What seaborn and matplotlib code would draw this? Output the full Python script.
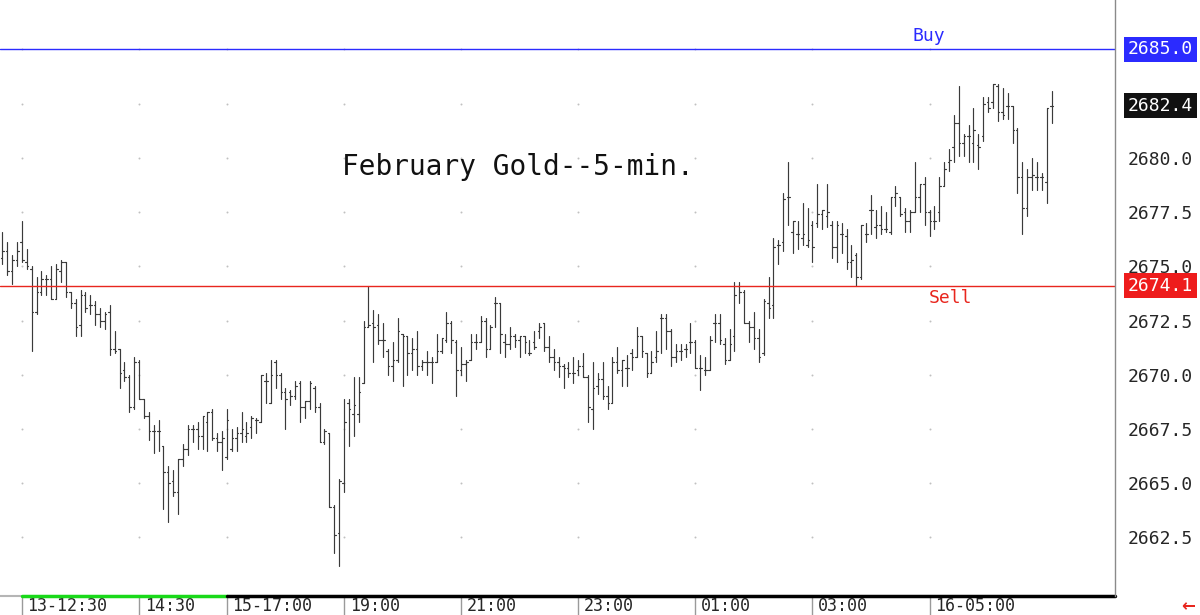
import matplotlib
matplotlib.use("Agg")
import matplotlib.pyplot as plt
import matplotlib.transforms as mtransforms
import pandas as pd
import seaborn as sns

# === Data: February Gold 5-min bars ===
highs = [2676.6, 2676.1, 2675.5, 2676.1, 2677.1, 2675.8, 2675.0, 2674.5, 2674.8, 2674.6,
         2675.0, 2675.1, 2675.3, 2675.2, 2673.8, 2673.5, 2673.9, 2673.8, 2673.7, 2673.4,
         2673.1, 2672.9, 2673.2, 2672.0, 2671.2, 2670.6, 2670.0, 2670.8, 2670.7, 2668.9,
         2668.3, 2667.7, 2667.9, 2666.7, 2665.8, 2665.6, 2666.1, 2666.8, 2667.7, 2667.7,
         2667.8, 2668.1, 2668.3, 2668.4, 2667.3, 2667.4, 2668.4, 2667.5, 2667.6, 2668.3,
         2667.8, 2668.1, 2668.0, 2670.0, 2670.1, 2670.7, 2670.7, 2670.1, 2669.4, 2669.3,
         2669.7, 2669.7, 2668.8, 2669.7, 2669.5, 2668.7, 2667.5, 2667.3, 2664.0, 2665.2,
         2668.9, 2668.9, 2669.9, 2669.9, 2672.5, 2674.1, 2673.0, 2672.8, 2672.4, 2671.2,
         2671.5, 2672.6, 2671.9, 2671.8, 2671.7, 2672.0, 2670.7, 2671.1, 2670.8, 2671.9,
         2671.7, 2672.9, 2672.5, 2671.6, 2671.3, 2670.7, 2671.9, 2671.9, 2672.7, 2672.6,
         2672.3, 2673.6, 2673.3, 2671.9, 2672.2, 2671.9, 2671.8, 2671.8, 2671.6, 2672.0,
         2672.4, 2672.4, 2671.8, 2671.2, 2670.8, 2670.5, 2670.6, 2670.8, 2670.7, 2671.0,
         2670.0, 2670.6, 2670.1, 2670.6, 2669.5, 2670.8, 2671.3, 2670.7, 2670.9, 2671.2,
         2672.2, 2671.8, 2671.0, 2671.1, 2672.0, 2672.8, 2672.8, 2672.1, 2671.4, 2671.4,
         2671.4, 2672.4, 2671.6, 2670.9, 2670.8, 2671.8, 2672.8, 2672.8, 2671.7, 2672.1,
         2674.3, 2674.3, 2673.9, 2672.5, 2672.9, 2672.1, 2673.5, 2674.5, 2676.3, 2676.2,
         2678.4, 2679.8, 2677.1, 2677.1, 2677.9, 2677.7, 2677.1, 2678.8, 2677.6, 2678.8,
         2677.1, 2677.1, 2677.0, 2676.7, 2676.0, 2675.6, 2676.9, 2677.0, 2678.3, 2677.6,
         2677.8, 2677.5, 2678.2, 2678.7, 2678.2, 2677.7, 2677.6, 2679.8, 2678.8, 2679.1,
         2677.6, 2677.8, 2679.1, 2679.8, 2680.4, 2682.0, 2683.3, 2681.1, 2681.5, 2682.3,
         2681.1, 2682.8, 2682.8, 2683.4, 2683.4, 2683.2, 2683.0, 2682.4, 2681.4, 2679.8,
         2679.5, 2680.0, 2679.8, 2679.3, 2682.3, 2683.1]
lows = [2675.1, 2674.6, 2674.2, 2675.0, 2675.2, 2674.9, 2671.1, 2672.8, 2673.7, 2673.7,
        2673.5, 2673.5, 2674.3, 2673.6, 2673.1, 2671.8, 2671.8, 2672.9, 2672.8, 2672.3,
        2672.2, 2672.1, 2670.9, 2671.0, 2669.4, 2669.7, 2668.3, 2668.4, 2668.9, 2668.0,
        2667.0, 2666.4, 2666.5, 2663.8, 2663.2, 2664.4, 2663.6, 2665.8, 2666.3, 2666.9,
        2666.6, 2666.6, 2666.5, 2667.0, 2666.5, 2665.6, 2666.1, 2666.5, 2666.5, 2666.9,
        2666.9, 2667.1, 2667.3, 2667.8, 2668.7, 2668.7, 2669.4, 2668.9, 2667.5, 2668.6,
        2668.9, 2667.8, 2668.0, 2668.4, 2668.3, 2666.9, 2666.8, 2663.9, 2661.8, 2661.2,
        2664.6, 2666.7, 2667.2, 2667.8, 2669.6, 2672.2, 2670.6, 2671.4, 2670.8, 2670.0,
        2669.7, 2670.6, 2669.5, 2670.0, 2670.2, 2670.0, 2670.2, 2670.0, 2669.6, 2670.6,
        2671.0, 2671.5, 2671.0, 2669.0, 2670.0, 2669.7, 2670.7, 2671.2, 2671.5, 2670.8,
        2671.2, 2672.2, 2671.0, 2670.8, 2671.2, 2671.3, 2670.8, 2671.0, 2670.9, 2671.2,
        2671.7, 2671.1, 2670.6, 2670.2, 2669.9, 2669.4, 2669.9, 2669.6, 2670.0, 2669.9,
        2667.8, 2667.5, 2669.1, 2668.9, 2668.4, 2668.7, 2670.1, 2669.5, 2669.5, 2670.2,
        2670.8, 2670.8, 2669.9, 2670.1, 2670.6, 2671.0, 2671.2, 2670.4, 2670.6, 2670.7,
        2670.8, 2671.0, 2670.3, 2669.3, 2670.0, 2670.2, 2671.5, 2671.4, 2670.5, 2670.7,
        2671.1, 2673.3, 2672.4, 2671.5, 2671.2, 2670.6, 2670.9, 2672.6, 2672.6, 2675.1,
        2675.7, 2676.9, 2675.6, 2675.8, 2676.0, 2675.9, 2675.2, 2676.8, 2676.7, 2676.8,
        2675.4, 2675.2, 2675.6, 2674.9, 2674.5, 2674.1, 2674.4, 2676.1, 2676.5, 2676.3,
        2676.5, 2676.6, 2676.5, 2677.8, 2677.3, 2676.6, 2676.6, 2677.5, 2677.5, 2676.9,
        2676.4, 2676.7, 2677.1, 2678.7, 2679.4, 2679.8, 2680.1, 2680.1, 2679.8, 2679.8,
        2679.5, 2680.8, 2682.1, 2682.3, 2681.7, 2681.8, 2681.8, 2680.7, 2678.4, 2676.5,
        2677.3, 2678.5, 2678.5, 2678.5, 2677.9, 2681.6]
opens = [2675.4, 2675.7, 2674.8, 2675.3, 2676.1, 2675.2, 2674.9, 2672.9, 2673.8, 2674.4,
         2674.4, 2673.5, 2674.8, 2675.2, 2673.8, 2673.3, 2672.3, 2673.7, 2673.2, 2673.2,
         2672.8, 2672.5, 2672.9, 2671.2, 2671.2, 2670.2, 2669.9, 2668.5, 2670.6, 2668.9,
         2668.1, 2667.4, 2667.4, 2666.7, 2665.5, 2665.1, 2664.6, 2666.1, 2666.6, 2667.5,
         2667.5, 2667.2, 2667.8, 2668.3, 2667.1, 2666.9, 2666.2, 2666.6, 2667.1, 2667.3,
         2667.2, 2667.6, 2667.9, 2667.8, 2669.7, 2668.7, 2670.6, 2670.0, 2669.2, 2669.2,
         2669.0, 2669.6, 2668.5, 2668.8, 2669.4, 2668.5, 2666.9, 2667.3, 2663.9, 2662.7,
         2665.0, 2668.7, 2668.2, 2668.2, 2669.6, 2672.2, 2672.4, 2672.3, 2671.6, 2671.1,
         2670.4, 2670.7, 2671.9, 2671.8, 2671.0, 2671.2, 2670.4, 2670.6, 2670.6, 2670.6,
         2671.1, 2671.6, 2672.4, 2671.5, 2670.2, 2670.5, 2670.7, 2671.5, 2671.5, 2672.5,
         2671.2, 2673.3, 2673.3, 2671.5, 2671.4, 2671.8, 2671.6, 2671.8, 2671.0, 2671.5,
         2672.0, 2672.4, 2671.3, 2670.8, 2670.6, 2670.4, 2670.3, 2670.1, 2670.2, 2670.4,
         2669.9, 2668.4, 2669.5, 2669.8, 2669.0, 2668.7, 2670.6, 2670.2, 2670.3, 2671.0,
         2670.8, 2671.8, 2671.0, 2670.1, 2670.8, 2672.6, 2672.6, 2672.0, 2670.8, 2671.1,
         2671.2, 2671.5, 2671.5, 2670.3, 2670.2, 2670.2, 2672.4, 2672.4, 2671.4, 2670.7,
         2671.8, 2674.1, 2673.8, 2672.4, 2672.2, 2671.7, 2671.0, 2673.3, 2673.2, 2676.0,
         2676.1, 2678.2, 2676.6, 2676.5, 2676.3, 2676.0, 2676.9, 2677.0, 2677.4, 2677.3,
         2676.9, 2675.9, 2676.5, 2676.4, 2675.2, 2675.5, 2674.5, 2676.5, 2677.6, 2676.8,
         2676.9, 2676.7, 2676.6, 2678.2, 2678.2, 2677.5, 2677.1, 2677.5, 2678.2, 2678.8,
         2677.5, 2677.1, 2677.5, 2678.7, 2679.8, 2680.5, 2681.6, 2680.7, 2681.0, 2680.7,
         2680.6, 2681.0, 2682.6, 2682.6, 2683.3, 2682.1, 2682.4, 2682.4, 2681.3, 2679.1,
         2677.7, 2679.1, 2679.1, 2679.1, 2678.9, 2682.4]
closes = [2675.7, 2674.8, 2675.3, 2675.7, 2675.3, 2675.0, 2672.9, 2673.8, 2674.4, 2674.4,
          2673.5, 2674.9, 2675.2, 2673.8, 2673.3, 2672.2, 2673.7, 2673.1, 2673.2, 2672.8,
          2672.5, 2672.8, 2671.2, 2671.1, 2670.1, 2669.9, 2668.5, 2670.6, 2668.9, 2668.1,
          2667.4, 2667.4, 2667.4, 2665.5, 2665.0, 2664.6, 2666.1, 2666.6, 2667.5, 2667.5,
          2667.2, 2668.1, 2668.3, 2667.1, 2666.9, 2667.1, 2667.9, 2667.1, 2667.3, 2667.5,
          2667.3, 2668.0, 2667.9, 2670.0, 2669.7, 2670.0, 2670.0, 2669.2, 2668.9, 2669.0,
          2669.5, 2668.5, 2668.8, 2669.6, 2668.5, 2666.9, 2667.4, 2663.9, 2662.6, 2665.1,
          2667.8, 2668.4, 2668.6, 2669.2, 2672.2, 2672.3, 2672.2, 2671.6, 2671.6, 2670.4,
          2670.7, 2672.0, 2671.8, 2671.0, 2671.2, 2670.4, 2670.6, 2670.6, 2670.6, 2671.1,
          2671.7, 2672.4, 2671.6, 2670.2, 2670.5, 2670.6, 2671.5, 2671.5, 2672.5, 2671.2,
          2672.2, 2673.3, 2671.9, 2671.4, 2671.8, 2671.6, 2671.8, 2671.5, 2671.0, 2671.3,
          2672.2, 2671.3, 2670.8, 2670.6, 2670.4, 2670.3, 2670.1, 2670.1, 2670.4, 2669.9,
          2668.5, 2669.4, 2669.8, 2669.0, 2668.7, 2670.6, 2670.2, 2670.7, 2670.3, 2670.8,
          2671.8, 2671.1, 2670.1, 2670.6, 2671.1, 2672.6, 2672.0, 2670.8, 2671.1, 2671.1,
          2671.2, 2671.5, 2670.3, 2670.3, 2670.2, 2671.6, 2672.4, 2671.6, 2670.7, 2671.4,
          2673.7, 2673.8, 2672.4, 2672.2, 2671.7, 2670.8, 2673.4, 2673.1, 2675.9, 2676.0,
          2678.1, 2678.2, 2677.1, 2676.5, 2676.5, 2676.2, 2675.9, 2677.4, 2677.6, 2677.5,
          2675.9, 2676.9, 2676.5, 2675.2, 2675.3, 2674.5, 2676.9, 2676.5, 2677.6, 2676.9,
          2676.7, 2676.7, 2678.2, 2678.4, 2677.4, 2677.1, 2677.5, 2678.2, 2678.8, 2677.5,
          2677.1, 2677.1, 2678.7, 2679.5, 2679.9, 2681.6, 2680.7, 2681.0, 2681.0, 2681.3,
          2680.5, 2682.5, 2682.3, 2683.4, 2682.1, 2682.0, 2682.4, 2681.3, 2679.1, 2677.7,
          2679.1, 2679.2, 2679.1, 2679.1, 2682.3, 2682.4]

time_ticks = [4, 28, 46, 70, 94, 118, 142, 166, 190]
time_labels = ["13-12:30", "14:30", "15-17:00", "19:00", "21:00",
               "23:00", "01:00", "03:00", "16-05:00"]
price_ticks = [2662.5, 2665.0, 2667.5, 2670.0, 2672.5, 2675.0, 2677.5, 2680.0]

buy_level = 2685.0
sell_level = 2674.1
last_price = closes[-1]

# === Build long-form segments for OHLC bars ===
tick_w = 0.32
rows = []
for i, (h, l, o, c) in enumerate(zip(highs, lows, opens, closes)):
    rows += [(f"r{i}", i, l), (f"r{i}", i, h)]
    rows += [(f"o{i}", i - tick_w, o), (f"o{i}", i, o)]
    rows += [(f"c{i}", i, c), (f"c{i}", i + tick_w, c)]
bars = pd.DataFrame(rows, columns=["seg", "x", "price"])

grid = pd.DataFrame([(x, y) for x in time_ticks for y in price_ticks + [2682.5, 2685.0]],
                    columns=["x", "price"])

# === Plot ===
sns.set_style("white")
plt.rcParams["font.family"] = ["DejaVu Sans Mono", "DejaVu Sans"]

fig = plt.figure(figsize=(12, 6.15), dpi=100)
ax = fig.add_axes([0, 19 / 615, 1115 / 1200, 596 / 615])

sns.scatterplot(data=grid, x="x", y="price", ax=ax, s=2, color="#c0c0c0",
                linewidth=0, legend=False)
sns.lineplot(data=bars, x="x", y="price", units="seg", estimator=None, sort=False,
             color="#3a3a3a", linewidth=0.85, ax=ax, legend=False)

ax.axhline(buy_level, color="#2b2bff", linewidth=1)
ax.axhline(sell_level, color="#e8261e", linewidth=1)

ax.set_xlim(-0.5, 228)
ax.set_ylim(2659.8, 2687.28)

ax.text(69.6, 2679.6, "February Gold--5-min.", fontsize=20, va="center", ha="left",
        color="#111111")
ax.text(186.4, 2685.6, "Buy", fontsize=13, color="#2b2bff", va="center", ha="left")
ax.text(189.9, 2673.55, "Sell", fontsize=13, color="#e8261e", va="center", ha="left")

# right price axis
ax.yaxis.tick_right()
ax.set_yticks(price_ticks)
ax.set_yticklabels([f"{p:.1f}" for p in price_ticks])
ax.tick_params(axis="y", length=0, pad=9, labelsize=13)
ax.set_ylabel("")
ax.set_xlabel("")

yblend = mtransforms.blended_transform_factory(ax.transAxes, ax.transData)
for level, bg in [(buy_level, "#2b2bff"), (last_price, "#111111"), (sell_level, "#ee1c1c")]:
    ax.text(1.0117, level, f"{level:.1f}", transform=yblend, fontsize=13, color="white",
            va="center", ha="left", clip_on=False,
            bbox=dict(boxstyle="square,pad=0.2", facecolor=bg, edgecolor="none"))

# bottom time axis
ax.set_xticks(time_ticks)
ax.set_xticklabels(time_labels)
ax.tick_params(axis="x", length=0, pad=1, labelsize=12)
offset = mtransforms.ScaledTranslation(4 / 72, 0, fig.dpi_scale_trans)
for lbl in ax.get_xticklabels():
    lbl.set_ha("left")
    lbl.set_transform(lbl.get_transform() + offset)

xblend = mtransforms.blended_transform_factory(ax.transData, ax.transAxes)
for t in time_ticks:
    ax.plot([t, t], [0, -0.035], transform=xblend, color="#9a9a9a", lw=1, clip_on=False)
ax.plot([-0.5, time_ticks[0]], [0, 0], transform=xblend, color="#b5b5b5", lw=1.5, clip_on=False)
ax.plot([time_ticks[0], time_ticks[2]], [0, 0], transform=xblend, color="#19d919", lw=2.5, clip_on=False)
ax.plot([time_ticks[2], 228], [0, 0], transform=xblend, color="black", lw=2.5, clip_on=False)

for side in ["top", "left", "bottom"]:
    ax.spines[side].set_visible(False)
ax.spines["right"].set_color("#8a8a8a")
ax.spines["right"].set_linewidth(1)

fig.text(0.99, 0.014, "\u2190", color="#e8261e", fontsize=12, fontweight="bold",
         ha="center", va="center", family="DejaVu Sans")

fig.savefig("out.png", dpi=100, facecolor="white")
plt.close(fig)
